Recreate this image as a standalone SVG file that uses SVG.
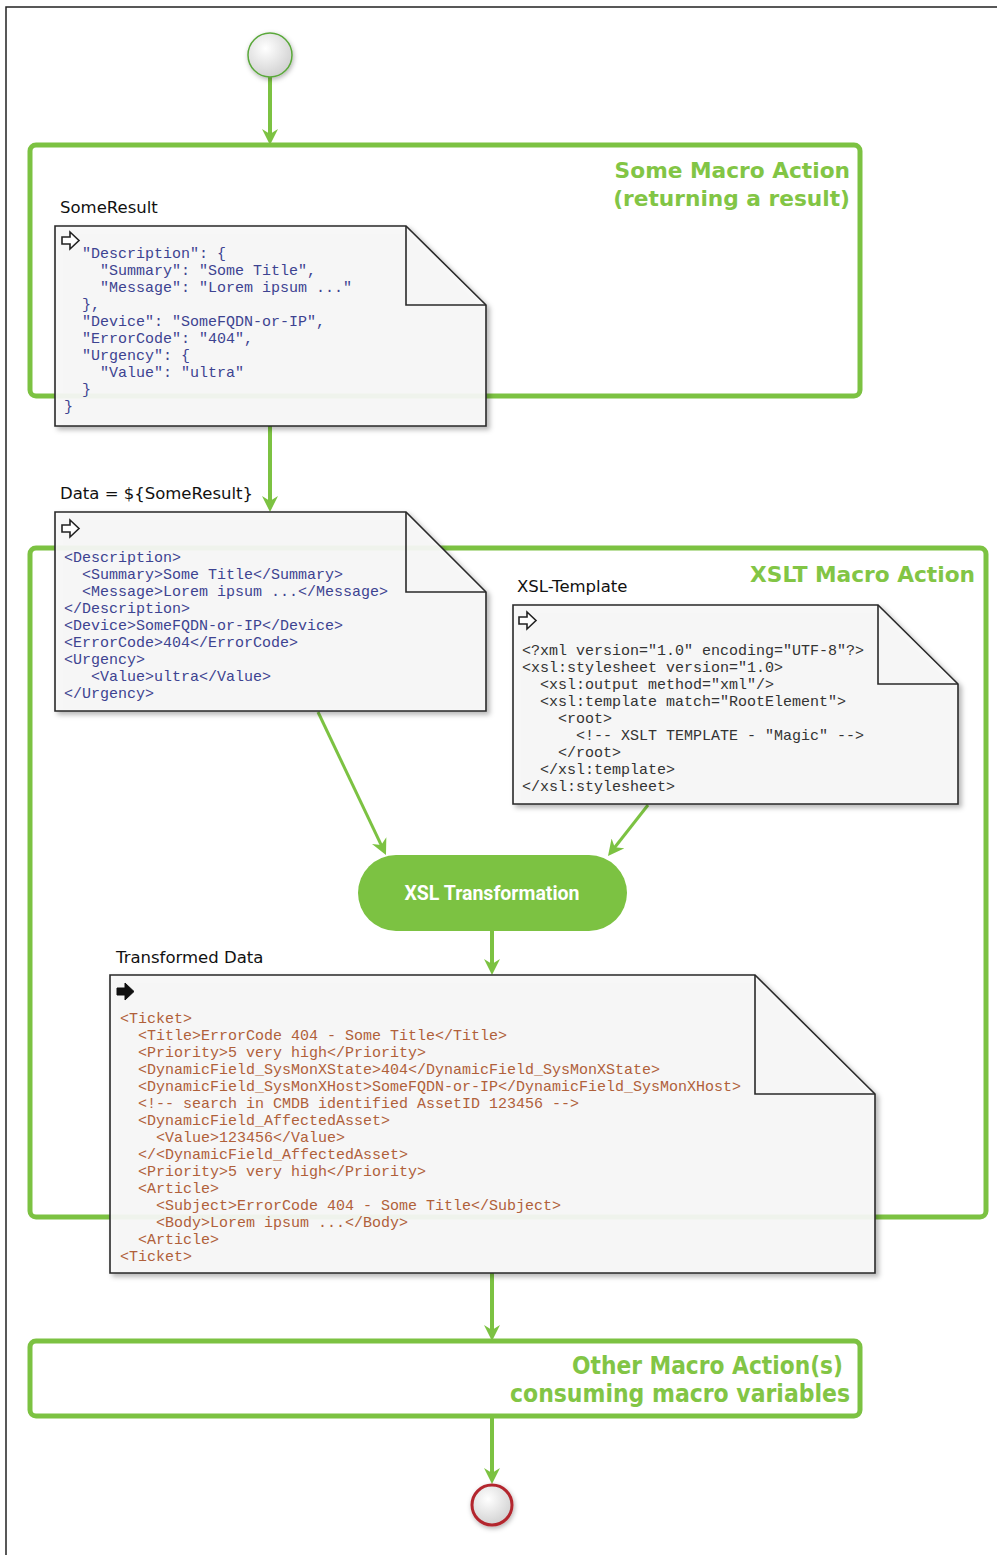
<svg xmlns="http://www.w3.org/2000/svg" width="997" height="1555" viewBox="0 0 997 1555">
<defs>
<style>
.frame{fill:none;stroke:#7cc242;stroke-width:5}
.title{font-family:"DejaVu Sans","Liberation Sans",sans-serif;font-weight:bold;font-size:21.7px;fill:#82c545;text-anchor:end}
.title2{font-family:"DejaVu Sans Condensed","Liberation Sans Narrow","Liberation Sans",sans-serif;font-weight:bold;font-size:25px;fill:#82c545;text-anchor:end}
.lbl{font-family:"DejaVu Sans","Liberation Sans",sans-serif;font-size:16.5px;fill:#111}
.note{fill:#f8f8f8;fill-opacity:0.92;stroke:#2a2a2a;stroke-width:1.6;filter:url(#sh)}
.fold{fill:none;stroke:#2a2a2a;stroke-width:1.6}
.code{font-family:"Liberation Mono","Courier New",monospace;font-size:15px}
.blue{fill:#3d4391}
.grey{fill:#333}
.brown{fill:#b0603a}
.conn{stroke:#7cc242;fill:none}
.icon{fill:#fff;stroke:#222;stroke-width:1.6;stroke-linejoin:miter}
</style>
<filter id="sh" x="-10%" y="-10%" width="120%" height="120%">
<feDropShadow dx="3" dy="3" stdDeviation="2.5" flood-color="#000" flood-opacity="0.3"/>
</filter>
<filter id="glow" x="-50%" y="-50%" width="200%" height="200%">
<feDropShadow dx="1" dy="2" stdDeviation="2.5" flood-color="#000" flood-opacity="0.3"/>
</filter>
<radialGradient id="cg" cx="0.4" cy="0.35" r="0.7">
<stop offset="0" stop-color="#ffffff"/>
<stop offset="1" stop-color="#cfcfcf"/>
</radialGradient>
<marker id="ah" viewBox="0 0 16 16" refX="10" refY="8" markerWidth="16" markerHeight="16" markerUnits="userSpaceOnUse" orient="auto">
<path d="M0,0 L16,8 L0,16 L5,8 z" fill="#7cc242"/>
</marker>
<path id="hollow" d="M0,5 H8 V0 L17,8.5 L8,17 V12 H0 Z"/>
</defs>
<rect width="997" height="1555" fill="#fff"/>
<path d="M6,1555 V7 H997" fill="none" stroke="#222" stroke-width="1.5"/>

<g id="frame-some-macro">
<rect class="frame" x="30" y="145" width="830" height="251" rx="6"/>
<text class="title" x="850" y="178">Some Macro Action</text>
<text class="title" x="850" y="206">(returning a result)</text>
</g>
<g id="frame-xslt">
<rect class="frame" x="30" y="548" width="956" height="669" rx="6"/>
<text class="title" x="975" y="582">XSLT Macro Action</text>
</g>
<g id="frame-other">
<rect class="frame" x="30" y="1341" width="830" height="75" rx="6"/>
<text class="title2" x="843" y="1374" textLength="271" lengthAdjust="spacingAndGlyphs">Other Macro Action(s)</text>
<text class="title2" x="850" y="1402" textLength="340" lengthAdjust="spacingAndGlyphs">consuming macro variables</text>
</g>

<g id="connectors">
<line class="conn" stroke-width="4" x1="270" y1="77" x2="270" y2="139" marker-end="url(#ah)"/>
<line class="conn" stroke-width="4" x1="270" y1="426" x2="270" y2="506" marker-end="url(#ah)"/>
<line class="conn" stroke-width="3" x1="318" y1="712" x2="383.4" y2="849.6" marker-end="url(#ah)"/>
<line class="conn" stroke-width="3" x1="648" y1="805" x2="611.7" y2="851.3" marker-end="url(#ah)"/>
<line class="conn" stroke-width="4" x1="492" y1="931" x2="492" y2="969" marker-end="url(#ah)"/>
<line class="conn" stroke-width="4" x1="492" y1="1273" x2="492" y2="1335" marker-end="url(#ah)"/>
<line class="conn" stroke-width="4" x1="492" y1="1416" x2="492" y2="1478" marker-end="url(#ah)"/>
</g>

<g id="start">
<circle cx="270" cy="55" r="22" fill="url(#cg)" stroke="#5aa83a" stroke-width="1.5" filter="url(#glow)"/>
</g>

<g id="note-someresult">
<text class="lbl" x="60" y="213">SomeResult</text>
<path class="note" d="M55,226 H406 L486,305 V426 H55 Z"/>
<path class="fold" d="M406,226 V305 H486"/>
<use href="#hollow" class="icon" transform="translate(62,232)"/>
<g class="code blue">
<text x="82" y="258">"Description": {</text>
<text x="100" y="275">"Summary": "Some Title",</text>
<text x="100" y="292">"Message": "Lorem ipsum ..."</text>
<text x="82" y="309">},</text>
<text x="82" y="326">"Device": "SomeFQDN-or-IP",</text>
<text x="82" y="343">"ErrorCode": "404",</text>
<text x="82" y="360">"Urgency": {</text>
<text x="100" y="377">"Value": "ultra"</text>
<text x="82" y="394">}</text>
<text x="64" y="411">}</text>
</g>
</g>

<g id="note-data">
<text class="lbl" x="60" y="499">Data = ${SomeResult}</text>
<path class="note" d="M55,512 H406 L486,592 V711 H55 Z"/>
<path class="fold" d="M406,512 V592 H486"/>
<use href="#hollow" class="icon" transform="translate(62,520)"/>
<g class="code blue">
<text x="64" y="562">&lt;Description&gt;</text>
<text x="82" y="579">&lt;Summary&gt;Some Title&lt;/Summary&gt;</text>
<text x="82" y="596">&lt;Message&gt;Lorem ipsum ...&lt;/Message&gt;</text>
<text x="64" y="613">&lt;/Description&gt;</text>
<text x="64" y="630">&lt;Device&gt;SomeFQDN-or-IP&lt;/Device&gt;</text>
<text x="64" y="647">&lt;ErrorCode&gt;404&lt;/ErrorCode&gt;</text>
<text x="64" y="664">&lt;Urgency&gt;</text>
<text x="91" y="681">&lt;Value&gt;ultra&lt;/Value&gt;</text>
<text x="64" y="698">&lt;/Urgency&gt;</text>
</g>
</g>

<g id="note-xsl-template">
<text class="lbl" x="517" y="592">XSL-Template</text>
<path class="note" d="M513,605 H878 L958,684 V804 H513 Z"/>
<path class="fold" d="M878,605 V684 H958"/>
<use href="#hollow" class="icon" transform="translate(519,612)"/>
<g class="code grey">
<text x="522" y="655">&lt;?xml version="1.0" encoding="UTF-8"?&gt;</text>
<text x="522" y="672">&lt;xsl:stylesheet version="1.0&gt;</text>
<text x="540" y="689">&lt;xsl:output method="xml"/&gt;</text>
<text x="540" y="706">&lt;xsl:template match="RootElement"&gt;</text>
<text x="558" y="723">&lt;root&gt;</text>
<text x="576" y="740">&lt;!-- XSLT TEMPLATE - "Magic" --&gt;</text>
<text x="558" y="757">&lt;/root&gt;</text>
<text x="540" y="774">&lt;/xsl:template&gt;</text>
<text x="522" y="791">&lt;/xsl:stylesheet&gt;</text>
</g>
</g>

<g id="xsl-transformation">
<rect x="358" y="855" width="269" height="76" rx="38" fill="#7cc242"/>
<text x="492" y="900" text-anchor="middle" font-family="Roboto,'Liberation Sans',sans-serif" font-weight="bold" font-size="19.5" fill="#fff">XSL Transformation</text>
</g>

<g id="note-transformed">
<text class="lbl" x="116" y="963">Transformed Data</text>
<path class="note" d="M110,975 H755 L875,1094 V1273 H110 Z"/>
<path class="fold" d="M755,975 V1094 H875"/>
<use href="#hollow" transform="translate(117,983)" fill="#111" stroke="#111" stroke-width="1"/>
<g class="code brown">
<text x="120" y="1023">&lt;Ticket&gt;</text>
<text x="138" y="1040">&lt;Title&gt;ErrorCode 404 - Some Title&lt;/Title&gt;</text>
<text x="138" y="1057">&lt;Priority&gt;5 very high&lt;/Priority&gt;</text>
<text x="138" y="1074">&lt;DynamicField_SysMonXState&gt;404&lt;/DynamicField_SysMonXState&gt;</text>
<text x="138" y="1091">&lt;DynamicField_SysMonXHost&gt;SomeFQDN-or-IP&lt;/DynamicField_SysMonXHost&gt;</text>
<text x="138" y="1108">&lt;!-- search in CMDB identified AssetID 123456 --&gt;</text>
<text x="138" y="1125">&lt;DynamicField_AffectedAsset&gt;</text>
<text x="156" y="1142">&lt;Value&gt;123456&lt;/Value&gt;</text>
<text x="138" y="1159">&lt;/&lt;DynamicField_AffectedAsset&gt;</text>
<text x="138" y="1176">&lt;Priority&gt;5 very high&lt;/Priority&gt;</text>
<text x="138" y="1193">&lt;Article&gt;</text>
<text x="156" y="1210">&lt;Subject&gt;ErrorCode 404 - Some Title&lt;/Subject&gt;</text>
<text x="156" y="1227">&lt;Body&gt;Lorem ipsum ...&lt;/Body&gt;</text>
<text x="138" y="1244">&lt;Article&gt;</text>
<text x="120" y="1261">&lt;Ticket&gt;</text>
</g>
</g>

<g id="end">
<circle cx="492" cy="1505" r="20" fill="url(#cg)" stroke="#b3262d" stroke-width="3" filter="url(#glow)"/>
</g>
</svg>
